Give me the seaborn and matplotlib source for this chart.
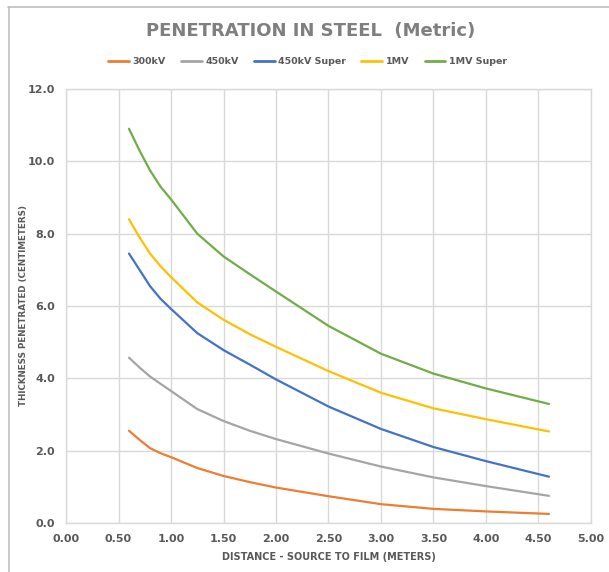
import pandas as pd
import numpy as np
import seaborn as sns
import matplotlib.pyplot as plt
from matplotlib.lines import Line2D

# Distance source-to-film (m) and thickness penetrated (cm)
distance = [0.6, 0.7, 0.8, 0.9, 1.0, 1.25, 1.5, 1.75, 2.0, 2.5, 3.0, 3.5, 4.0, 4.6]
kv300 = [2.55, 2.30, 2.07, 1.93, 1.82, 1.52, 1.30, 1.13, 0.98, 0.74, 0.52, 0.39, 0.32, 0.25]
kv450 = [4.57, 4.30, 4.05, 3.85, 3.65, 3.15, 2.82, 2.55, 2.32, 1.92, 1.56, 1.26, 1.02, 0.75]
kv450_super = [7.45, 7.00, 6.55, 6.20, 5.92, 5.25, 4.78, 4.38, 3.97, 3.22, 2.60, 2.10, 1.71, 1.28]
mv1 = [8.40, 7.90, 7.45, 7.10, 6.80, 6.10, 5.62, 5.22, 4.87, 4.20, 3.60, 3.17, 2.87, 2.53]
mv1_super = [10.90, 10.30, 9.75, 9.30, 8.95, 8.00, 7.37, 6.88, 6.40, 5.45, 4.68, 4.13, 3.72, 3.29]

series_names = ['300kV', '450kV', '450kV Super', '1MV', '1MV Super']
series_values = [kv300, kv450, kv450_super, mv1, mv1_super]
colors = ['#ED7D31', '#A5A5A5', '#4472C4', '#FFC000', '#70AD47']

x_ticks = [0.0, 0.5, 1.0, 1.5, 2.0, 2.5, 3.0, 3.5, 4.0, 4.5, 5.0]
y_ticks = [0, 2, 4, 6, 8, 10, 12]

rows = []
for name, vals in zip(series_names, series_values):
    for d, v in zip(distance, vals):
        rows.append({'distance': d, 'thickness': v, 'series': name})
df = pd.DataFrame(rows)

sns.set_style('white')
plt.rcParams['font.family'] = ['DejaVu Sans']

fig = plt.figure(figsize=(6.09, 5.72), dpi=100)
ax = fig.add_axes([0.1084, 0.0857, 0.8620, 0.7587])

sns.lineplot(data=df, x='distance', y='thickness', hue='series',
             hue_order=series_names, palette=colors, linewidth=1.6,
             legend=False, ax=ax)

ax.set_xlim(0, 5)
ax.set_ylim(0, 12)
ax.set_xticks(x_ticks)
ax.set_yticks(y_ticks)
ax.set_xticklabels([f'{t:.2f}' for t in x_ticks])
ax.set_yticklabels([f'{t:.1f}' for t in y_ticks])
ax.grid(True, color='#d9d9d9', linewidth=1)
for s in ax.spines.values():
    s.set_color('#d9d9d9')
    s.set_linewidth(1)
ax.tick_params(length=0, labelsize=8, labelcolor='#595959', pad=8)
for lbl in ax.get_xticklabels() + ax.get_yticklabels():
    lbl.set_fontweight('bold')

ax.set_xlabel('DISTANCE - SOURCE TO FILM (METERS)', fontsize=7, fontweight='bold',
              color='#595959', labelpad=6)
ax.set_ylabel('THICKNESS PENETRATED (CENTIMETERS)', fontsize=6.3, fontweight='bold',
              color='#595959')
ax.yaxis.set_label_coords(-0.072, 0.5)

fig.text(0.51, 0.946, 'PENETRATION IN STEEL  (Metric)', ha='center', va='center',
         fontsize=13, fontweight='bold', color='#7f7f7f')

handles = [Line2D([0], [0], color=c, linewidth=2) for c in colors]
fig.legend(handles, series_names, loc='center', bbox_to_anchor=(0.505, 0.892),
           ncol=5, frameon=False, handlelength=2.2, handletextpad=0.4,
           columnspacing=1.6, labelcolor='#595959', prop={'weight': 'bold', 'size': 6.8})

# chart border (top and left edges visible in the reference)
fig.add_artist(Line2D([8 / 609, 1.0], [1 - 7 / 572, 1 - 7 / 572], color='#bfbfbf', linewidth=1.2))
fig.add_artist(Line2D([9 / 609, 9 / 609], [0, 1 - 7 / 572], color='#bfbfbf', linewidth=1.2))

fig.savefig('out.png', dpi=100, facecolor='white')
